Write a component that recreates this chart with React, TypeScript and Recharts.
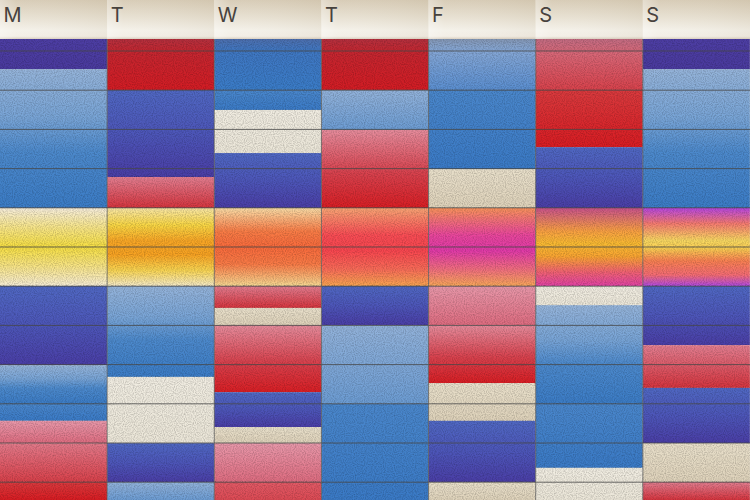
import React from "react";
import { BarChart, Bar, XAxis, YAxis, ReferenceLine, Cell } from "recharts";

// ---------- data ----------
const dayKeys = ["Mon", "Tue", "Wed", "Thu", "Fri", "Sat", "Sun"];
const dayLetters = ["M", "T", "W", "T", "F", "S", "S"];
const gridColumns = [1, 2, 3, 4, 5, 6];
const hourLines = [0.306, 1.306, 2.306, 3.306, 4.306, 5.306, 6.306, 7.306, 8.306, 9.306, 10.306, 11.306];

// durations of each block (hours), top to bottom
const monDurations = [0.77, 3.54, 1.99, 2.02, 0.99, 0.43, 0.57, 0.99, 0.46];
const tueDurations = [1.3, 2.22, 0.79, 1.99, 2.32, 1.69, 0.99, 0.46];
const wedDurations = [1.3, 0.51, 1.1, 1.4, 1.99, 0.56, 0.44, 1.71, 0.89, 0.41, 0.99, 0.46];
const thuDurations = [1.3, 1.02, 1.99, 1.99, 1.0, 2.01, 2.45];
const friDurations = [1.3, 2.02, 0.99, 1.99, 1.0, 1.48, 0.96, 1.56, 0.46];
const satDurations = [1.3, 1.46, 1.55, 1.99, 0.49, 2.52, 1.63, 0.82];
const sunDurations = [0.77, 3.54, 1.99, 1.51, 1.09, 1.41, 0.99, 0.46];

// tone of each block
const monTones = ["indigo", "skyToBlue", "sunYellow", "blueIndigo", "skyToBlue", "blue", "pink", "pinkRedLong", "red"];
const tueTones = ["redDark", "blueIndigo", "pinkRed", "sunOrange", "skyToBlue", "cream", "blueIndigo", "sky"];
const wedTones = ["steelBlue", "blue", "cream", "blueIndigo", "sunCoral", "pinkRed", "beige", "pinkToRed", "blueIndigo", "beige", "pink", "redPink"];
const thuTones = ["redDark", "sky", "pinkToRed", "sunRed", "blueIndigo", "sky", "blue"];
const friTones = ["greySky", "blue", "beige", "sunMagenta", "pink", "pinkToRed", "beige", "blueIndigo", "beige"];
const satTones = ["roseRed", "red", "blueIndigo", "sunGold", "cream", "skyToBlue", "blue", "cream"];
const sunTones = ["indigo", "skyToBlue", "sunViolet", "blueIndigo", "pinkRed", "blueIndigo", "beige", "pinkRed"];

const dayDurations = [monDurations, tueDurations, wedDurations, thuDurations, friDurations, satDurations, sunDurations];
const dayTones = [monTones, tueTones, wedTones, thuTones, friTones, satTones, sunTones];

// ---------- styles ----------
const CHART_W = 750;
const CHART_H = 500;
const HEADER_H = 39;
const TOTAL = 11.76;

const toneStops: Record<string, [number, string][]> = {
  indigo: [[0, "#4d3ea4"], [1, "#4a3a9e"]],
  skyToBlue: [[0, "#95b4da"], [0.35, "#78a4d6"], [0.6, "#4c89cc"], [1, "#3b7cc6"]],
  sky: [[0, "#92b2da"], [1, "#6c9cd3"]],
  blue: [[0, "#4a87cc"], [1, "#3a7ac6"]],
  steelBlue: [[0, "#4d6fae"], [0.24, "#3f77c2"], [1, "#3a7cc8"]],
  greySky: [[0, "#8497b5"], [0.23, "#85a7d6"], [1, "#5a8ed0"]],
  blueIndigo: [[0, "#5068c3"], [0.5, "#4d56b9"], [1, "#4a3ea6"]],
  redDark: [[0, "#b4303e"], [0.25, "#c42630"], [1, "#d31c24"]],
  roseRed: [[0, "#c26c82"], [0.3, "#d86676"], [1, "#d8424c"]],
  red: [[0, "#d93a3e"], [1, "#d81c22"]],
  redPink: [[0, "#e25a66"], [1, "#dc4a54"]],
  pinkRed: [[0, "#e27e90"], [1, "#d5343e"]],
  pinkRedLong: [[0, "#e37a8a"], [1, "#d8404a"]],
  pinkToRed: [[0, "#e68c9c"], [0.55, "#d8424e"], [1, "#d81e24"]],
  pink: [[0, "#e898aa"], [1, "#de6c80"]],
  cream: [[0, "#f0ece1"], [1, "#ebe6d8"]],
  beige: [[0, "#e8dfca"], [1, "#ded2ba"]],
  sunYellow: [[0, "#f6eddb"], [0.25, "#f6e488"], [0.5, "#f5de42"], [0.75, "#f6e386"], [1, "#f6ecd4"]],
  sunOrange: [[0, "#f8e6a6"], [0.22, "#f8d644"], [0.42, "#f7a626"], [0.6, "#f7a222"], [0.8, "#f8d452"], [1, "#f5eac6"]],
  sunCoral: [[0, "#f9dca6"], [0.3, "#f87c46"], [0.5, "#f86a3c"], [0.72, "#f87a46"], [1, "#f6d892"]],
  sunRed: [[0, "#f8a474"], [0.35, "#f84c54"], [0.55, "#f8464f"], [0.78, "#f86a58"], [1, "#f8a452"]],
  sunMagenta: [[0, "#f8925c"], [0.35, "#e8469c"], [0.55, "#e03aa8"], [0.78, "#f06c80"], [1, "#f8a65a"]],
  sunGold: [[0, "#c8528a"], [0.3, "#f8a042"], [0.46, "#f8ba32"], [0.62, "#f8a432"], [0.82, "#f06272"], [1, "#e042a4"]],
  sunViolet: [[0, "#b646e0"], [0.2, "#f47a70"], [0.42, "#f8d862"], [0.52, "#f8cc52"], [0.68, "#f88052"], [0.86, "#f46c74"], [1, "#b04ae0"]],
};

// ---------- chart data ----------
const maxSegments = Math.max(...dayDurations.map((d) => d.length));
const chartData = dayKeys.map((key, i) => {
  const row: Record<string, string | number> = { day: key, slot: i + 0.5 };
  dayDurations[i].forEach((v, j) => {
    row[`s${j}`] = v;
  });
  return row;
});

const HeaderTick = (props: any) => {
  const { x, index, visibleTicksCount, width } = props;
  const count = visibleTicksCount || dayKeys.length;
  const band = (width || CHART_W) / count;
  const left = x - band / 2;
  return (
    <g>
      <rect x={left} y={0} width={band} height={HEADER_H} fill="url(#headerGrad)" />
      <rect x={left} y={0} width={band} height={HEADER_H} fill="url(#headerSide)" />
      <text
        x={left + 3.5}
        y={22}
        fontSize={20}
        fill="#47423d"
        fontFamily="Inter, 'Open Sans', 'DejaVu Sans', sans-serif"
        fontWeight={400}
      >
        {dayLetters[index]}
      </text>
    </g>
  );
};

const BlockShape = (props: any) => {
  let { x, y, width, height } = props;
  const { fill } = props;
  if (!height) return <g />;
  if (height < 0) {
    y = y + height;
    height = -height;
  }
  if (width < 0) {
    x = x + width;
    width = -width;
  }
  return (
    <g>
      <rect x={x} y={y} width={width} height={height} fill={fill} />
      <rect x={x} y={y} width={width} height={height} fill="#000" filter="url(#grain)" />
    </g>
  );
};

export default function App() {
  return (
    <div style={{ position: "fixed", left: 0, top: 0, width: CHART_W, height: CHART_H, background: "#f0ece2" }}>
      <BarChart
        width={CHART_W}
        height={CHART_H}
        data={chartData}
        margin={{ top: 0, right: 0, bottom: 0, left: 0 }}
        barCategoryGap={0}
        barGap={0}
      >
        <defs>
          {Object.entries(toneStops).map(([name, stops]) => (
            <linearGradient key={name} id={`g-${name}`} x1="0" y1="0" x2="0" y2="1">
              {stops.map(([o, c], k) => (
                <stop key={k} offset={o} stopColor={c} />
              ))}
            </linearGradient>
          ))}
          <linearGradient id="headerGrad" x1="0" y1="0" x2="0" y2="1">
            <stop offset="0" stopColor="#d6cab4" />
            <stop offset="0.45" stopColor="#e7e0d1" />
            <stop offset="0.78" stopColor="#f4f1e9" />
            <stop offset="0.93" stopColor="#f3eee6" />
            <stop offset="1" stopColor="#d8cebf" />
          </linearGradient>
          <linearGradient id="headerSide" x1="0" y1="0" x2="1" y2="0">
            <stop offset="0" stopColor="#ffffff" stopOpacity={0.35} />
            <stop offset="0.15" stopColor="#ffffff" stopOpacity={0.05} />
            <stop offset="1" stopColor="#b8a88c" stopOpacity={0.12} />
          </linearGradient>
          <filter id="grain" x="0" y="0" width="1" height="1" filterUnits="objectBoundingBox">
            <feTurbulence type="fractalNoise" baseFrequency="0.9" numOctaves={1} seed={3} result="n" />
            <feColorMatrix
              in="n"
              type="matrix"
              values="0 0 0 0 0  0 0 0 0 0  0 0 0 0 0  0.45 0 0 0 -0.17"
            />
          </filter>
        </defs>
        <XAxis
          dataKey="day"
          orientation="top"
          height={HEADER_H}
          axisLine={false}
          tickLine={false}
          interval={0}
          tick={<HeaderTick />}
        />
        <XAxis
          xAxisId="grid"
          dataKey="slot"
          type="number"
          domain={[0, dayKeys.length]}
          allowDataOverflow
          hide
        />
        <YAxis type="number" domain={[0, TOTAL]} reversed hide allowDataOverflow />
        {Array.from({ length: maxSegments }).map((_, j) => (
          <Bar key={`s${j}`} dataKey={`s${j}`} stackId="week" isAnimationActive={false} shape={<BlockShape />}>
            {chartData.map((_, i) => (
              <Cell key={i} fill={dayTones[i][j] ? `url(#g-${dayTones[i][j]})` : "none"} />
            ))}
          </Bar>
        ))}
        {hourLines.map((h) => (
          <ReferenceLine key={`h${h}`} y={h} stroke="#474747" strokeOpacity={0.8} strokeWidth={1} />
        ))}
        {gridColumns.map((c) => (
          <ReferenceLine key={`c${c}`} x={c} xAxisId="grid" stroke="#5a5a5a" strokeOpacity={0.75} strokeWidth={1} />
        ))}
      </BarChart>
    </div>
  );
}
